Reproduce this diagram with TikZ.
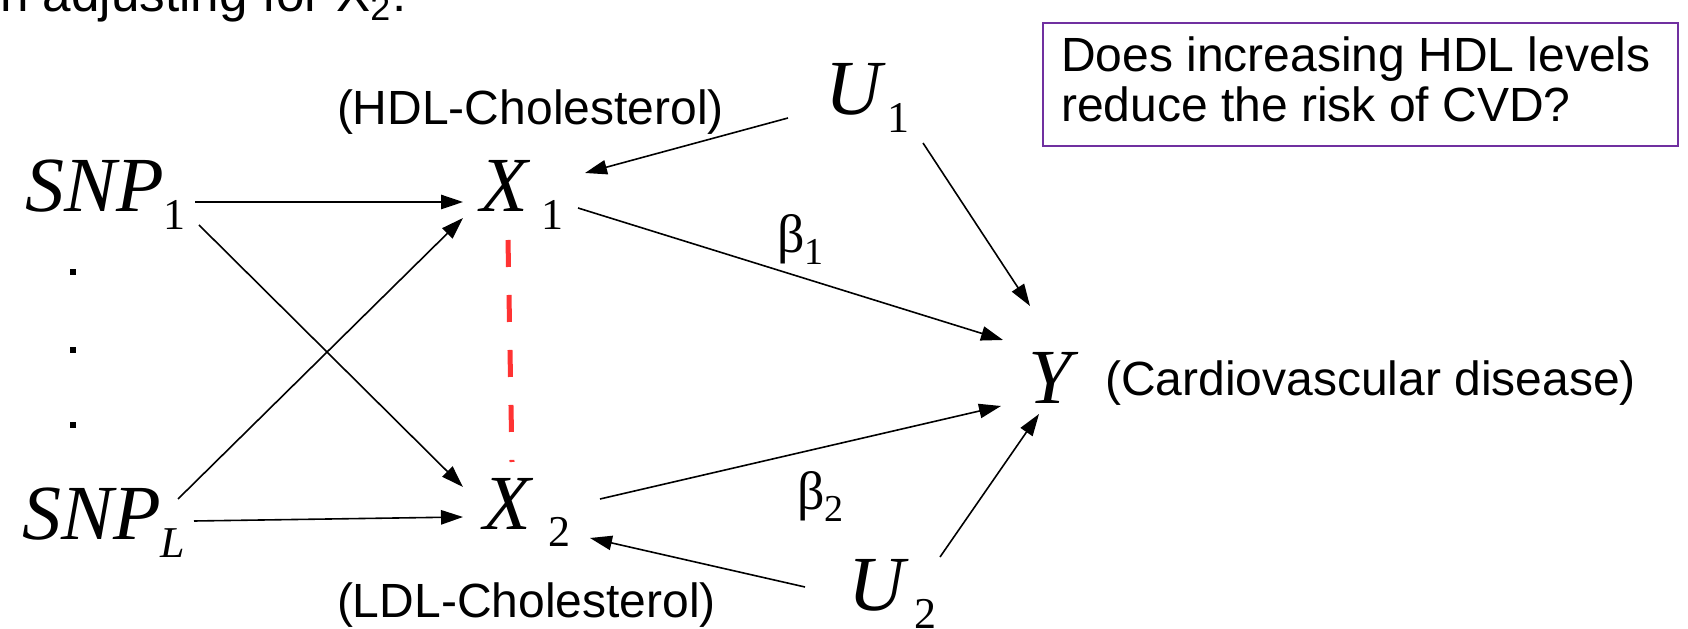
\documentclass[tikz,border=0pt]{standalone}
\usepackage{fontspec}
\setmainfont{Liberation Serif}
\newfontfamily\arialf{Liberation Sans}
\usetikzlibrary{arrows.meta}
\definecolor{boxpurple}{RGB}{112,48,160}
\definecolor{dashred}{RGB}{255,51,51}
\newcommand\bigit{\fontsize{19.5}{20}\selectfont\itshape}
\newcommand\subsz{\fontsize{11}{11}\selectfont\upshape}
\newcommand\mysub[2]{\hspace{#1}\raisebox{-4.4pt}{\subsz #2}}
\newcommand\sanstext{\arialf\fontsize{12}{12.5}\selectfont}
\newcommand\betasz{\fontsize{13.5}{14}\selectfont}
\newcommand\betasub[1]{\raisebox{-3pt}{\fontsize{9.5}{9.5}\selectfont #1}}
\begin{document}
\begin{tikzpicture}[x=0.25pt,y=-0.25pt,
  lab/.style={inner sep=0pt,outer sep=0pt,anchor=base west},
  conn/.style={line width=0.4pt,-{Triangle[length=5.5pt,width=3.6pt]}},
  corr/.style={draw=dashred,line width=1.25pt,dash pattern=on 6.75pt off 7pt},
  dotsq/.style={fill=black,inner sep=0pt,outer sep=0pt,minimum size=1.5pt},
  qbox/.style={draw=boxpurple,line width=0.55pt,inner sep=0pt,anchor=north west,
    minimum width=158.75pt,minimum height=30.75pt}]
\useasboundingbox (0,0) rectangle (1688,629);

% cut-off text at the top
\node[lab,font=\arialf\fontsize{12.8}{14}\selectfont] (intro) at (43,12) {\llap{when }adjusting for X\textsubscript{2}:};

% question box
\node[qbox] (question) at (1042,22) {};
\node[lab,font=\sanstext] (q1) at (1061,72) {Does increasing HDL levels};
\node[lab,font=\sanstext] (q2) at (1061,122) {reduce the risk of CVD?};

% variables
\node[lab] (snp1) at (25,212) {{\bigit SNP}\mysub{0pt}{1}};
\node[lab] (snpL) at (22,540) {{\bigit SNP}\mysub{0pt}{\itshape L}};
\node[lab] (x1) at (480,212) {{\bigit X}\mysub{3.5pt}{1}};
\node[lab] (x2) at (483,529) {{\bigit X}\mysub{4.5pt}{2}};
\node[lab] (u1) at (825,115) {{\bigit U}\mysub{1.5pt}{1}};
\node[lab] (u2) at (848,611) {{\bigit U}\mysub{2.5pt}{2}};
\node[lab] (y) at (1028,404) {{\bigit Y}};

% labels
\node[lab,font=\sanstext] (hdl) at (337,125) {(HDL-Cholesterol)};
\node[lab,font=\sanstext] (ldl) at (337,617) {(LDL-Cholesterol)};
\node[lab,font=\sanstext] (cvd) at (1105,396) {(Cardiovascular disease)};
\node[lab] (b1) at (777,253) {{\betasz β}\betasub{1}};
\node[lab] (b2) at (797,510) {{\betasz β}\betasub{2}};

% vertical dots
\node[dotsq] (d1) at (73,272) {};
\node[dotsq] (d2) at (73,350) {};
\node[dotsq] (d3) at (73,425) {};

% connectors
\draw[conn] ([shift={(170,-10)}]snp1.base west) -- ([shift={(-17,-10)}]x1.base west);
\draw[conn] ([shift={(174,13)}]snp1.base west) -- ([shift={(-20,-42)}]x2.base west);
\draw[conn] ([shift={(156,-41)}]snpL.base west) -- ([shift={(-17,6)}]x1.base west);
\draw[conn] ([shift={(172,-19)}]snpL.base west) -- ([shift={(-20,-12)}]x2.base west);
\draw[conn] ([shift={(-37,3)}]u1.base west) -- ([shift={(105,-39)}]x1.base west);
\draw[conn] ([shift={(98,28)}]u1.base west) -- ([shift={(2,-98)}]y.base west);
\draw[conn] ([shift={(98,-4)}]x1.base west) -- ([shift={(-25,-64)}]y.base west);
\draw[conn] ([shift={(117,-30)}]x2.base west) -- ([shift={(-27,2)}]y.base west);
\draw[conn] ([shift={(-43,-24)}]u2.base west) -- ([shift={(107,9)}]x2.base west);
\draw[conn] ([shift={(92,-54)}]u2.base west) -- ([shift={(11,10)}]y.base west);

% correlation between X1 and X2
\draw[corr] ([shift={(28,28)}]x1.base west) -- ([shift={(29,-67)}]x2.base west);
\end{tikzpicture}
\end{document}
